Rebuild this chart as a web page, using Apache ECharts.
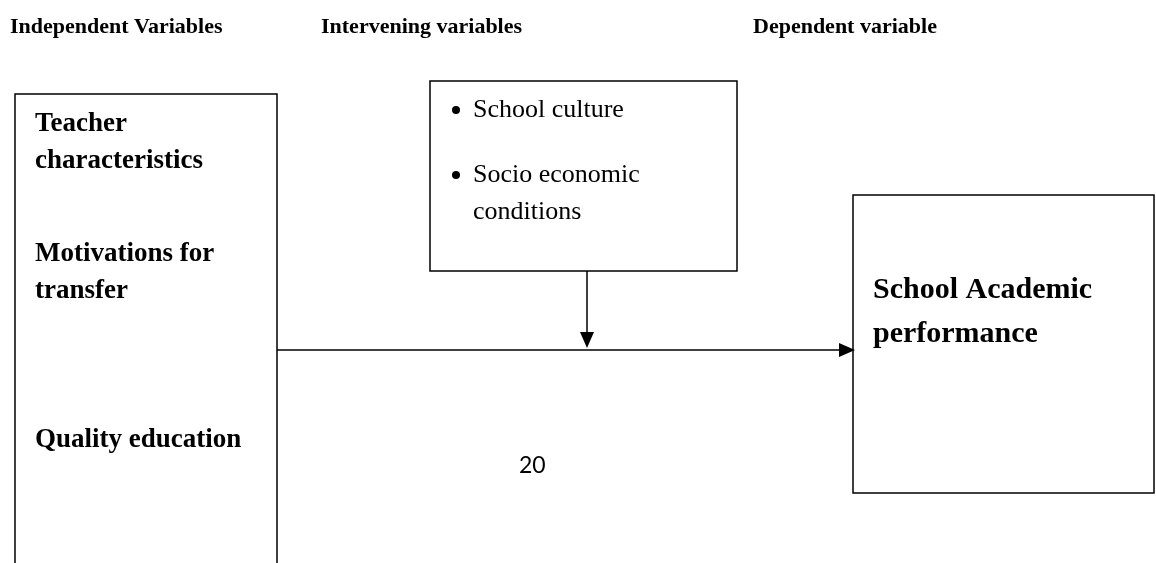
<!DOCTYPE html>
<html>
<head>
<meta charset="utf-8">
<style>
html,body{margin:0;padding:0;background:#fff;}
#main{width:1156px;height:563px;}
</style>
<script src="https://cdn.jsdelivr.net/npm/echarts@6/dist/echarts.min.js"></script>
</head>
<body>
<div id="main"></div>
<script>
// ---- content ----
const headers = ['Independent Variables', 'Intervening variables', 'Dependent variable'];
const independentLines = ['Teacher', 'characteristics', 'Motivations for', 'transfer', 'Quality education'];
const interveningBullets = ['School culture', 'Socio economic'];
const interveningLines = ['School culture', 'Socio economic', 'conditions'];
const dependentLines = ['School Academic', 'performance'];
const pageNumber = '20';

// ---- layout ----
const serif = '"Liberation Serif", "Times New Roman", serif';
const headerX = [10, 321, 753];
const headerBaseline = 35;
const indepBaselines = [133, 170, 263, 300, 449];
const interBaselines = [119, 184, 221];
const bulletBaselines = [119, 184];
const depBaselines = [300, 344];

function mid(b, fs) { return b - 0.33 * fs; }

const g = [];
const stroke = { stroke: '#000', lineWidth: 1.5, fill: null };

headers.forEach((h, i) => g.push({
  type: 'text', x: headerX[i], y: mid(headerBaseline, 22),
  style: { text: h, font: 'bold 22px ' + serif, fill: '#000', verticalAlign: 'middle', align: 'left' }
}));

// Left box (open at bottom)
g.push({ type: 'polyline', shape: { points: [[15, 570], [15, 94], [277, 94], [277, 570]] }, style: stroke });
independentLines.forEach((t, i) => g.push({
  type: 'text', x: 35, y: mid(indepBaselines[i], 27),
  style: { text: t, font: 'bold 27px ' + serif, fill: '#000', verticalAlign: 'middle' }
}));

// Middle box
g.push({ type: 'rect', shape: { x: 430, y: 81, width: 307, height: 190 }, style: stroke });
bulletBaselines.forEach(b => g.push({
  type: 'circle', shape: { cx: 456, cy: b - 9, r: 4 }, style: { fill: '#000' }
}));
interveningLines.forEach((t, i) => g.push({
  type: 'text', x: 473, y: mid(interBaselines[i], 26),
  style: { text: t, font: '26px ' + serif, fill: '#000', verticalAlign: 'middle' }
}));

// Down arrow
g.push({ type: 'line', shape: { x1: 587, y1: 271, x2: 587, y2: 334 }, style: { stroke: '#000', lineWidth: 1.5 } });
g.push({ type: 'polygon', shape: { points: [[580, 332], [594, 332], [587, 348]] }, style: { fill: '#000' } });

// Horizontal arrow
g.push({ type: 'line', shape: { x1: 277, y1: 350, x2: 842, y2: 350 }, style: { stroke: '#000', lineWidth: 1.5 } });
g.push({ type: 'polygon', shape: { points: [[839, 343], [839, 357], [855, 350]] }, style: { fill: '#000' } });

// Right box
g.push({ type: 'rect', shape: { x: 853, y: 195, width: 301, height: 298 }, style: stroke });
dependentLines.forEach((t, i) => g.push({
  type: 'text', x: 873, y: mid(depBaselines[i], 30),
  style: { text: t, font: 'bold 30px ' + serif, fill: '#000', verticalAlign: 'middle' }
}));

// Page number
g.push({
  type: 'text', x: 519, y: mid(473, 23),
  style: { text: pageNumber, font: '23px Lato, "Open Sans", sans-serif', fill: '#000', verticalAlign: 'middle' }
});

const chart = echarts.init(document.getElementById('main'), null, { renderer: 'canvas' });
chart.setOption({ backgroundColor: '#fff', animation: false, graphic: { elements: g } });
</script>
</body>
</html>
